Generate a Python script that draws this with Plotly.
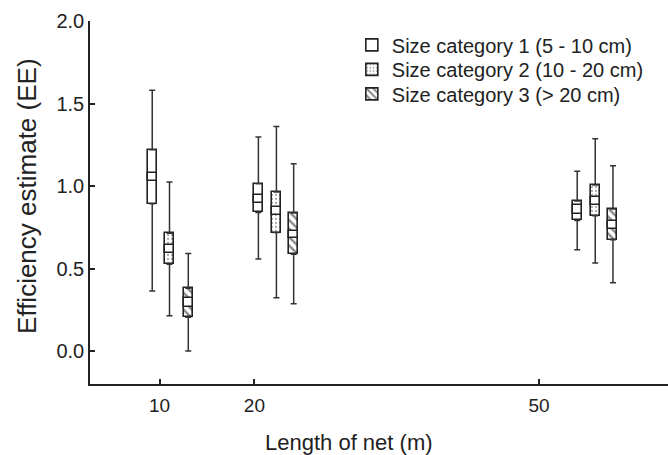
import plotly.graph_objects as go

# ---------------- data ----------------
net_length = [10, 20, 50]
tick_labels = ["10", "20", "50"]
series_names = ["Size category 1 (5 - 10 cm)",
                "Size category 2 (10 - 20 cm)",
                "Size category 3 (> 20 cm)"]

# box centre positions on the x scale (as drawn in the figure)
cat1_x = [9.23, 20.42, 54.03]
cat2_x = [11.05, 22.32, 55.93]
cat3_x = [13.03, 24.14, 57.80]

cat1_upper = [1.58, 1.297, 1.089]
cat1_q3 = [1.220, 1.014, 0.909]
cat1_band_hi = [1.079, 0.947, 0.882]
cat1_band_lo = [1.032, 0.900, 0.832]
cat1_q1 = [0.893, 0.840, 0.791]
cat1_lower = [0.364, 0.557, 0.613]

cat2_upper = [1.024, 1.360, 1.287]
cat2_q3 = [0.714, 0.963, 1.006]
cat2_band_hi = [0.644, 0.870, 0.931]
cat2_band_lo = [0.597, 0.822, 0.885]
cat2_q1 = [0.526, 0.718, 0.820]
cat2_lower = [0.213, 0.322, 0.534]

cat3_upper = [0.591, 1.135, 1.123]
cat3_q3 = [0.381, 0.836, 0.860]
cat3_band_hi = [0.320, 0.729, 0.785]
cat3_band_lo = [0.265, 0.684, 0.739]
cat3_q1 = [0.205, 0.587, 0.674]
cat3_lower = [0.0, 0.287, 0.413]

y_ticks = [0.0, 0.5, 1.0, 1.5, 2.0]

# ---------------- styling ----------------
FONT = "Liberation Sans, Arial, sans-serif"
INK = "#222222"
BOX_W = 0.95

patterns = [
    dict(shape=""),
    dict(shape=".", fgcolor="#555555", bgcolor="white", size=4, solidity=0.25),
    dict(shape="\\", fgcolor="#111111", bgcolor="white", size=6, solidity=0.4),
]
legend_ids = ["legend", "legend2", "legend3"]
legend_y = [0.9879, 0.9204, 0.8529]

series = [
    (cat1_x, cat1_upper, cat1_q3, cat1_band_hi, cat1_band_lo, cat1_q1, cat1_lower),
    (cat2_x, cat2_upper, cat2_q3, cat2_band_hi, cat2_band_lo, cat2_q1, cat2_lower),
    (cat3_x, cat3_upper, cat3_q3, cat3_band_hi, cat3_band_lo, cat3_q1, cat3_lower),
]

fig = go.Figure()

for i, (xs, up, q3, bh, bl, q1, lo) in enumerate(series):
    # outer box (q1..q3)
    fig.add_trace(go.Bar(
        x=xs, base=q1, y=[a - b for a, b in zip(q3, q1)],
        width=BOX_W, name=series_names[i], showlegend=True,
        legend=legend_ids[i],
        marker=dict(color="white", pattern=patterns[i],
                    line=dict(color=INK, width=1.6)),
        hoverinfo="skip",
    ))
for i, (xs, up, q3, bh, bl, q1, lo) in enumerate(series):
    # inner white band
    fig.add_trace(go.Bar(
        x=xs, base=bl, y=[a - b for a, b in zip(bh, bl)],
        width=BOX_W, showlegend=False,
        marker=dict(color="white", line=dict(color=INK, width=1.6)),
        hoverinfo="skip",
    ))
for i, (xs, up, q3, bh, bl, q1, lo) in enumerate(series):
    # upper whisker
    fig.add_trace(go.Scatter(
        x=xs, y=q3, mode="markers", marker=dict(size=1, opacity=0),
        showlegend=False, hoverinfo="skip",
        error_y=dict(type="data", symmetric=False,
                     array=[a - b for a, b in zip(up, q3)],
                     arrayminus=[0] * len(xs),
                     color="#333333", thickness=1.5, width=3),
    ))
    # lower whisker
    fig.add_trace(go.Scatter(
        x=xs, y=q1, mode="markers", marker=dict(size=1, opacity=0),
        showlegend=False, hoverinfo="skip",
        error_y=dict(type="data", symmetric=False,
                     array=[0] * len(xs),
                     arrayminus=[a - b for a, b in zip(q1, lo)],
                     color="#333333", thickness=1.5, width=3),
    ))

legend_common = dict(xanchor="left", yanchor="top",
                     font=dict(size=20, family=FONT, color=INK),
                     bgcolor="rgba(0,0,0,0)", itemwidth=30)

fig.update_layout(
    width=668, height=455,
    margin=dict(l=90, r=0, t=21, b=71),
    paper_bgcolor="white", plot_bgcolor="white",
    barmode="overlay", bargap=0,
    font=dict(family=FONT, color=INK, size=19),
    showlegend=True,
    legend=dict(x=0.453, y=legend_y[0], **legend_common),
    legend2=dict(x=0.453, y=legend_y[1], **legend_common),
    legend3=dict(x=0.453, y=legend_y[2], **legend_common),
    xaxis=dict(range=[2.67, 63.6], tickmode="array", tickvals=net_length,
               ticktext=tick_labels, ticks="inside", ticklen=5,
               tickcolor=INK, tickwidth=1.5,
               showline=True, linecolor=INK, linewidth=1.5,
               showgrid=False, zeroline=False, ticklabelstandoff=3,
               tickfont=dict(size=19, family=FONT, color=INK)),
    yaxis=dict(range=[-0.2, 2.0], tickmode="array", tickvals=y_ticks,
               tickformat=".1f", ticks="inside", ticklen=5,
               tickcolor=INK, tickwidth=1.5,
               showline=True, linecolor=INK, linewidth=1.5,
               showgrid=False, zeroline=False,
               tickfont=dict(size=20, family=FONT, color=INK)),
    annotations=[
        dict(text="Length of net (m)", xref="paper", yref="paper",
             x=0.448, y=-0.1625, xanchor="center", yanchor="middle",
             showarrow=False, font=dict(size=22, family=FONT, color=INK)),
        dict(text="Efficiency estimate (EE)", xref="paper", yref="paper",
             x=-0.109, y=0.518, xanchor="center", yanchor="middle",
             textangle=-90, showarrow=False,
             font=dict(size=26, family=FONT, color=INK)),
    ],
)

fig.write_html("out.html")
